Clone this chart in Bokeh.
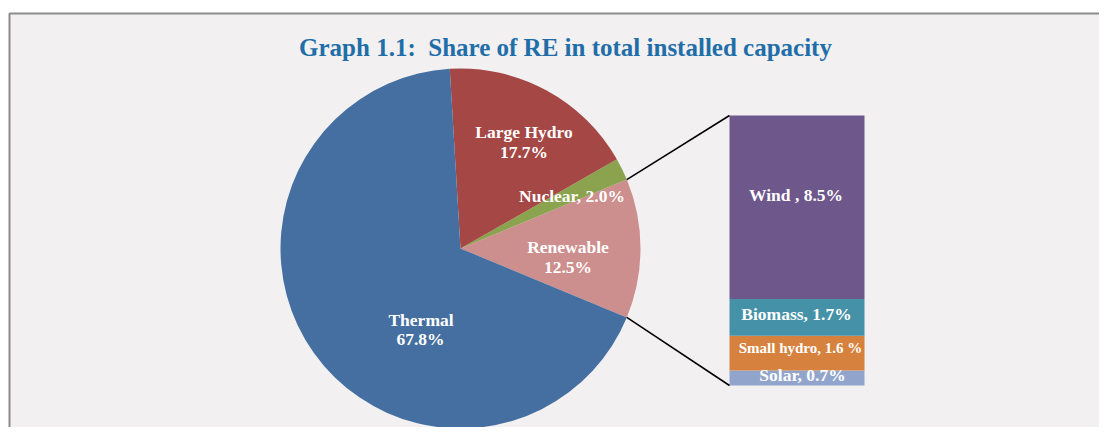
from bokeh.plotting import figure
from bokeh.models import Range1d
from bokeh.embed import file_html
from bokeh.resources import INLINE
from bokeh.core.properties import value
import numpy as np

# ---------------- data ----------------
title_text = "Graph 1.1:\u00a0 Share of RE in total installed capacity"

pie_names = ["Renewable", "Nuclear", "Large Hydro", "Thermal"]
pie_values = [12.5, 2.0, 17.7, 67.8]
pie_colors = ["#CD8E8E", "#8BA34F", "#A54744", "#446FA0"]

bar_names = ["Solar", "Small hydro", "Biomass", "Wind"]
bar_values = [0.7, 1.6, 1.7, 8.5]
bar_colors = ["#91A5CC", "#D6823E", "#4592A8", "#6D578B"]

# ---------------- layout ----------------
W, H = 1099, 427
FONT = "Liberation Serif"
BG = "#F2F0F1"
DY = -7  # text baseline correction

p = figure(width=W, height=H, output_backend="svg", toolbar_location=None,
           x_range=Range1d(0, W), y_range=Range1d(-H, 0),
           min_border=0, outline_line_color=None)
p.axis.visible = False
p.grid.visible = False
p.xaxis.visible = False
p.yaxis.visible = False
p.background_fill_color = "white"
p.border_fill_color = "white"

# panel frame
p.quad(left=9, right=1200, top=-13, bottom=-500, fill_color=BG,
       line_color="#8C8C8C", line_width=2)

# title
p.text(x=[565], y=[-(53.5 + DY)], text=[title_text], text_font=value(FONT),
       text_font_style="bold", text_font_size="25px", text_color="#1F6EA8",
       text_align="center", text_baseline="alphabetic")

# pie
cx, cy, r = 460, -248, 180
fr = np.array(pie_values) / sum(pie_values)
start0 = -fr[0] * np.pi
ends = start0 + np.cumsum(fr) * 2 * np.pi
starts = np.concatenate([[start0], ends[:-1]])
p.wedge(x=cx, y=cy, radius=r, start_angle=starts, end_angle=ends,
        fill_color=pie_colors, line_color=None)

# bar (pie of bar)
bx0, bx1 = 729, 864
btop_px, bbot_px = 115, 385
total = sum(bar_values)
scale = (bbot_px - btop_px) / total
p.extra_y_ranges = {"bar": Range1d((-H + bbot_px) / scale, (bbot_px) / scale)}
cum = np.cumsum(bar_values)
bottoms = np.concatenate([[0], cum[:-1]])
p.quad(left=bx0, right=bx1, bottom=bottoms, top=cum, fill_color=bar_colors,
       line_color=None, y_range_name="bar")

# connector lines
a_up, a_dn = ends[0], starts[0]
p.segment(x0=[cx + r * np.cos(a_up), cx + r * np.cos(a_dn)],
          y0=[cy + r * np.sin(a_up), cy + r * np.sin(a_dn)],
          x1=[bx0, bx0], y1=[-btop_px, -bbot_px],
          line_color="black", line_width=1.5)

# labels
def lab(x, y, t, size="17.5px"):
    p.text(x=[x], y=[-(y + DY)], text=[t], text_font=value(FONT), text_font_style="bold",
           text_font_size=size, text_color="white", text_align="center",
           text_baseline="alphabetic")

lab(523.5, 138.5, "Large Hydro")
lab(523.5, 158, f"{pie_values[2]:.1f}%")
lab(571.5, 202, f"Nuclear, {pie_values[1]:.1f}%")
lab(567.5, 253.5, "Renewable")
lab(567.5, 273, f"{pie_values[0]:.1f}%")
lab(420.5, 326, "Thermal")
lab(420, 345.5, f"{pie_values[3]:.1f}%")

lab(795.5, 201.5, f"Wind , {bar_values[3]:.1f}%")
lab(796, 320, f"Biomass, {bar_values[2]:.1f}%")
lab(800, 354, f"Small hydro, {bar_values[1]:.1f} %", size="15px")
lab(802, 381.5, f"Solar, {bar_values[0]:.1f}%")

open("out.html", "w").write(file_html(p, INLINE))
